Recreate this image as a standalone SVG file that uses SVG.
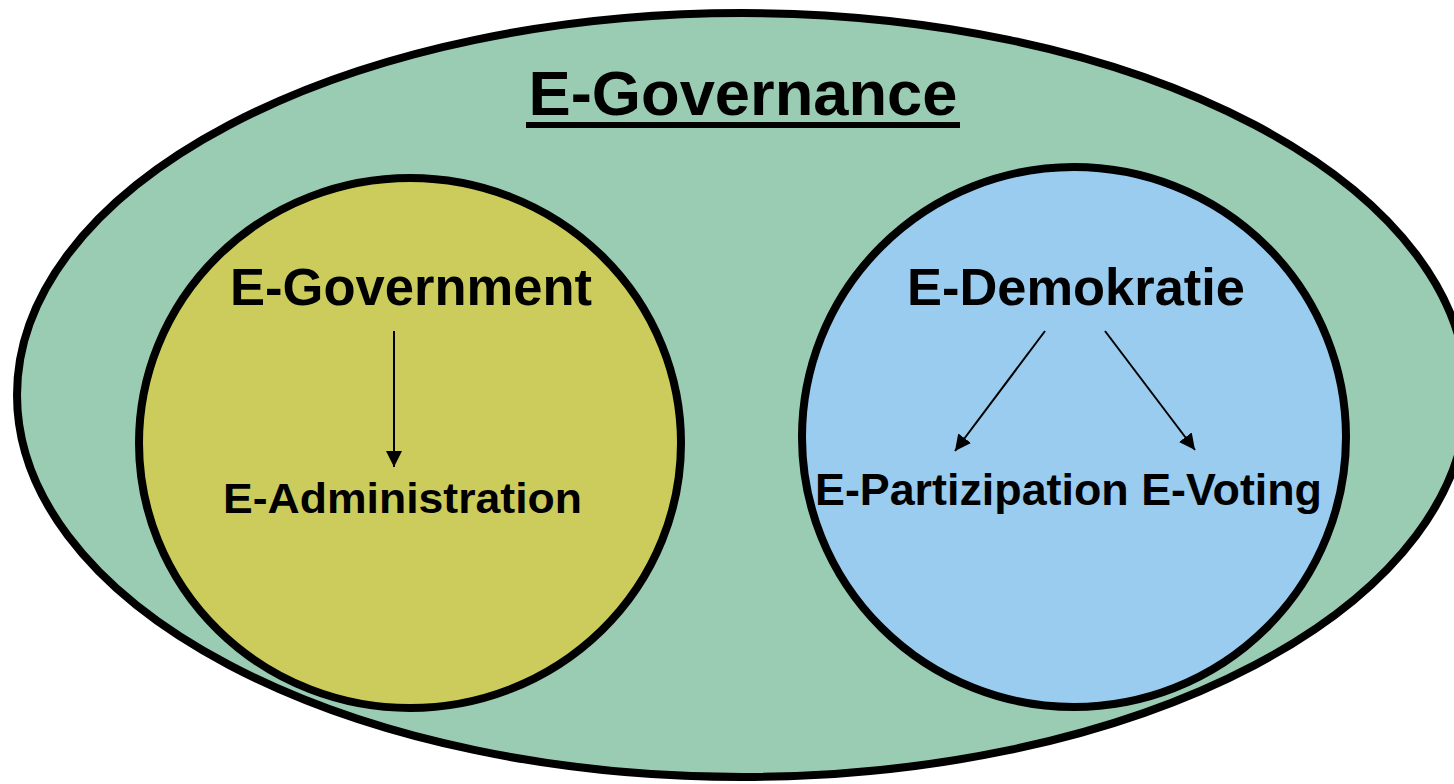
<svg xmlns="http://www.w3.org/2000/svg" width="1454" height="784" viewBox="0 0 1454 784">
  <style>
    .shape { stroke: #000; stroke-width: 8; }
    .label { font-family: "Liberation Sans", Arial, sans-serif; font-weight: bold; fill: #000; text-anchor: middle; }
    .conn { stroke: #000; stroke-width: 2; fill: none; marker-end: url(#arrow); }
  </style>
  <defs>
    <marker id="arrow" markerUnits="userSpaceOnUse" markerWidth="18" markerHeight="16" refX="16" refY="8" orient="auto">
      <path d="M0,0 L16,8 L0,16 Z" fill="#000"/>
    </marker>
  </defs>
  <rect width="1454" height="784" fill="#ffffff"/>
  <g id="e-governance">
    <ellipse class="shape" cx="742" cy="395" rx="725" ry="382" fill="#99CCB3"/>
    <text class="label" x="743" y="115" font-size="63" textLength="429" lengthAdjust="spacingAndGlyphs">E-Governance</text>
    <rect x="526" y="122" width="434" height="6" fill="#000"/>
  </g>
  <g id="e-government">
    <ellipse class="shape" cx="410" cy="443" rx="271" ry="265" fill="#CCCC5C"/>
    <text class="label" x="411" y="305" font-size="51" textLength="362" lengthAdjust="spacingAndGlyphs">E-Government</text>
  </g>
  <g id="e-administration">
    <text class="label" x="402.5" y="513" font-size="43" textLength="359" lengthAdjust="spacingAndGlyphs">E-Administration</text>
  </g>
  <g id="e-demokratie">
    <ellipse class="shape" cx="1074" cy="437" rx="272" ry="270" fill="#99CCEE"/>
    <text class="label" x="1076" y="305" font-size="52" textLength="338" lengthAdjust="spacingAndGlyphs">E-Demokratie</text>
  </g>
  <g id="e-partizipation-voting">
    <text class="label" x="1068.5" y="505" font-size="44" textLength="507" lengthAdjust="spacingAndGlyphs">E-Partizipation E-Voting</text>
  </g>
  <g id="connectors">
    <line class="conn" x1="394" y1="331" x2="394" y2="467"/>
    <line class="conn" x1="1045" y1="331" x2="955" y2="451"/>
    <line class="conn" x1="1105" y1="331" x2="1195" y2="450"/>
  </g>
</svg>
